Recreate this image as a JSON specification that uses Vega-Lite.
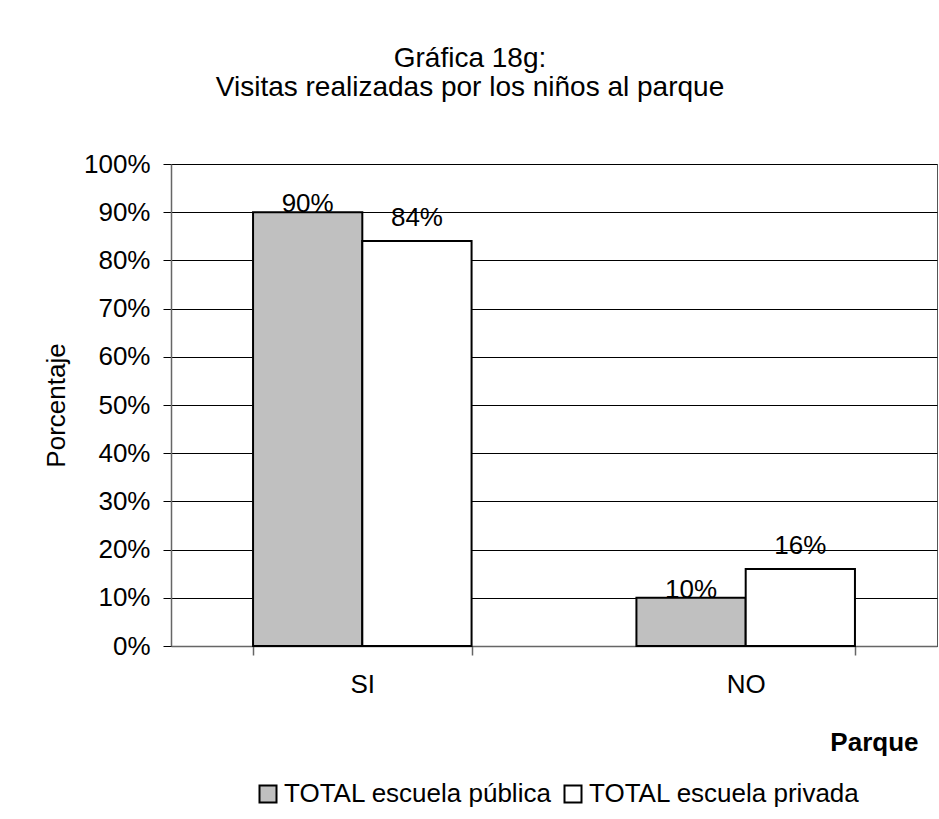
{
  "$schema": "https://vega.github.io/schema/vega-lite/v6.json",
  "width": 766,
  "height": 482,
  "autosize": "none",
  "padding": {"left": 171, "top": 164, "right": 2, "bottom": 173},
  "background": "white",
  "title": {
    "text": ["Gráfica 18g:", "Visitas realizadas por los niños al parque"],
    "fontSize": 28,
    "fontWeight": "normal",
    "font": "Liberation Sans",
    "color": "black",
    "lineHeight": 29,
    "anchor": "middle",
    "dx": -84,
    "offset": 49
  },
  "data": {
    "values": [
      {"parque": "SI", "serie": "TOTAL escuela pública", "valor": 0.90},
      {"parque": "SI", "serie": "TOTAL escuela privada", "valor": 0.84},
      {"parque": "NO", "serie": "TOTAL escuela pública", "valor": 0.10},
      {"parque": "NO", "serie": "TOTAL escuela privada", "valor": 0.16}
    ]
  },
  "encoding": {
    "x": {
      "field": "parque",
      "type": "nominal",
      "sort": ["SI", "NO"],
      "scale": {"paddingInner": 0.43, "paddingOuter": 0.214},
      "axis": {
        "title": "Parque",
        "titleFontWeight": "bold",
        "titleFontSize": 26,
        "titleColor": "black",
        "titleAlign": "right",
        "titleBaseline": "alphabetic",
        "titleX": 747,
        "titleY": 104,
        "labelAngle": 0,
        "labelFontSize": 26,
        "labelColor": "black",
        "labelPadding": 16,
        "tickBand": "extent",
        "ticks": true,
        "tickSize": 9,
        "tickColor": "#666666",
        "tickWidth": 1.5,
        "domainColor": "#666666",
        "domainWidth": 1.5,
        "grid": false
      }
    },
    "xOffset": {
      "field": "serie",
      "type": "nominal",
      "sort": ["TOTAL escuela pública", "TOTAL escuela privada"],
      "scale": {"paddingInner": 0, "paddingOuter": 0}
    },
    "y": {
      "field": "valor",
      "type": "quantitative",
      "scale": {"domain": [0, 1], "nice": false},
      "axis": {
        "title": "Porcentaje",
        "titleFontSize": 26,
        "titleFontWeight": "normal",
        "titleColor": "black",
        "titlePadding": 14,
        "format": ".0%",
        "values": [0, 0.1, 0.2, 0.3, 0.4, 0.5, 0.6, 0.7, 0.8, 0.9, 1],
        "labelFontSize": 26,
        "labelColor": "black",
        "labelPadding": 13,
        "tickSize": 8,
        "tickColor": "black",
        "domainColor": "#666666",
        "domainWidth": 1.5,
        "grid": true,
        "gridColor": "black",
        "gridWidth": 1
      }
    }
  },
  "layer": [
    {
      "mark": {"type": "bar", "stroke": "black", "strokeWidth": 2},
      "encoding": {
        "color": {
          "field": "serie",
          "type": "nominal",
          "sort": ["TOTAL escuela pública", "TOTAL escuela privada"],
          "scale": {"domain": ["TOTAL escuela pública", "TOTAL escuela privada"], "range": ["#c0c0c0", "#ffffff"]},
          "legend": {
            "title": null,
            "orient": "none",
            "direction": "horizontal",
            "legendX": 84,
            "legendY": 617,
            "symbolType": "square",
            "symbolSize": 289,
            "symbolStrokeColor": "black",
            "symbolStrokeWidth": 2,
            "labelFontSize": 26,
            "labelColor": "black",
            "labelOffset": 3,
            "labelLimit": 0,
            "columnPadding": 8
          }
        }
      }
    },
    {
      "transform": [{"filter": "datum.serie === 'TOTAL escuela pública'"}],
      "mark": {"type": "text", "fontSize": 26, "color": "black", "baseline": "alphabetic", "dy": 0},
      "encoding": {"text": {"field": "valor", "type": "quantitative", "format": ".0%"}}
    },
    {
      "transform": [{"filter": "datum.serie === 'TOTAL escuela privada'"}],
      "mark": {"type": "text", "fontSize": 26, "color": "black", "baseline": "alphabetic", "dy": -15},
      "encoding": {"text": {"field": "valor", "type": "quantitative", "format": ".0%"}}
    }
  ],
  "config": {
    "font": "Liberation Sans",
    "view": {"stroke": "#555555", "strokeWidth": 1}
  }
}
